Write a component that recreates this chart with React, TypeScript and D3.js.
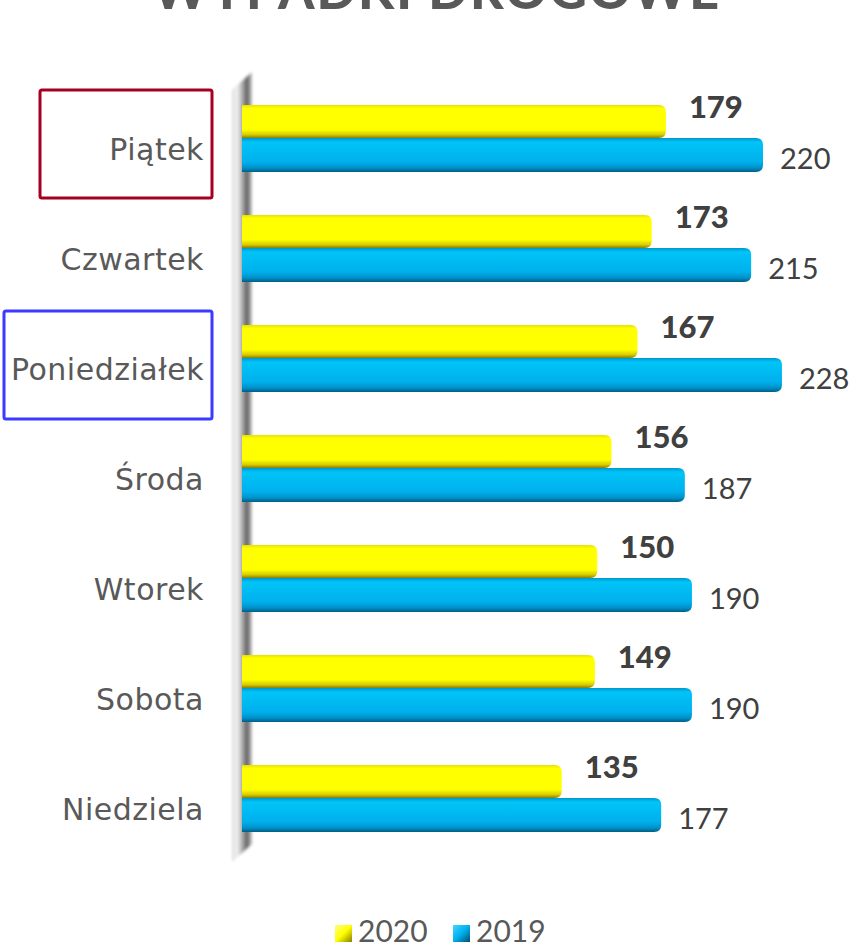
import React from "react";
import * as d3 from "d3";

const categories = ["Piątek", "Czwartek", "Poniedziałek", "Środa", "Wtorek", "Sobota", "Niedziela"];
const values2020 = [179, 173, 167, 156, 150, 149, 135];
const values2019 = [220, 215, 228, 187, 190, 190, 177];
const seriesNames = ["2020", "2019"];
const title = "WYPADKI DROGOWE";

const W = 854;
const H = 946;
const FONT = "'Lato', 'DejaVu Sans', sans-serif";
const CAT_FONT = "'DejaVu Sans', sans-serif";

export default function App() {
  const x = d3.scaleLinear().domain([0, 220]).range([242, 763]);
  const y = d3.scaleBand<string>().domain(categories).range([83, 853]).paddingInner(0).paddingOuter(0);
  const barH = 33;

  const barPath = (x0: number, x1: number, y0: number, h: number) => {
    const r = 7;
    return `M${x0},${y0} H${x1 - r} Q${x1},${y0} ${x1},${y0 + r} V${y0 + h - r} Q${x1},${y0 + h} ${x1 - r},${y0 + h} H${x0} Z`;
  };

  return (
    <svg width={W} height={H} style={{ position: "absolute", left: 0, top: 0, background: "#fff" }}>
      <defs>
        <linearGradient id="gY" x1="0" y1="0" x2="0" y2="1">
          <stop offset="0" stopColor="#e8e000" />
          <stop offset="0.1" stopColor="#ffff00" />
          <stop offset="0.75" stopColor="#ffff00" />
          <stop offset="0.9" stopColor="#d8cc00" />
          <stop offset="1" stopColor="#8a7d00" />
        </linearGradient>
        <linearGradient id="gB" x1="0" y1="0" x2="0" y2="1">
          <stop offset="0" stopColor="#0096cc" />
          <stop offset="0.12" stopColor="#00c4f8" />
          <stop offset="0.7" stopColor="#00b0ec" />
          <stop offset="0.88" stopColor="#0090c8" />
          <stop offset="1" stopColor="#005f85" />
        </linearGradient>
        <linearGradient id="gWall" x1="0" y1="0" x2="1" y2="0">
          <stop offset="0" stopColor="#dcdcdc" />
          <stop offset="0.25" stopColor="#f2f2f2" />
          <stop offset="0.5" stopColor="#b0b0b0" />
          <stop offset="0.75" stopColor="#5e5e5e" />
          <stop offset="1" stopColor="#c8c8c8" />
        </linearGradient>
        <filter id="blur" x="-50%" y="-5%" width="200%" height="110%">
          <feGaussianBlur stdDeviation="1.5" />
        </filter>
        <linearGradient id="gLY" x1="0" y1="0" x2="1" y2="1">
          <stop offset="0" stopColor="#ffff80" />
          <stop offset="0.5" stopColor="#ffff00" />
          <stop offset="1" stopColor="#8a8000" />
        </linearGradient>
        <linearGradient id="gLB" x1="0" y1="0" x2="1" y2="1">
          <stop offset="0" stopColor="#40d8ff" />
          <stop offset="0.5" stopColor="#00b0f0" />
          <stop offset="1" stopColor="#004f70" />
        </linearGradient>
      </defs>

      {/* title, cut off at top */}
      <text x={437} y={9} textAnchor="middle" fontFamily={FONT} fontWeight={900} fontSize={52} fill="#595959" letterSpacing={2}>
        {title}
      </text>

      {/* axis wall */}
      <path d={`M232,90 L252,72 L252,844 L232,862 Z`} fill="url(#gWall)" filter="url(#blur)" />

      {categories.map((c, i) => {
        const yc = (y(c) as number) + y.bandwidth() / 2;
        const x0 = x(0);
        const xa = x(values2020[i]);
        const xb = x(values2019[i]);
        return (
          <g key={c}>
            <path d={barPath(x0, xb, yc, barH + 1)} fill="url(#gB)" />
            <path d={barPath(x0, xa, yc - barH, barH)} fill="url(#gY)" />
            <text x={xa + 23} y={yc - 20} fontFamily={FONT} fontWeight={900} fontSize={31} fill="#404040">
              {values2020[i]}
            </text>
            <text x={xb + 17} y={yc + 31} fontFamily={FONT} fontSize={29} fill="#404040">
              {values2019[i]}
            </text>
            <text x={204} y={yc + 22} textAnchor="end" fontFamily={CAT_FONT} fontSize={30} letterSpacing={0.5} fill="#595959">
              {c}
            </text>
          </g>
        );
      })}

      {/* highlight boxes */}
      <rect x={40} y={90} width={172} height={108} rx={2} fill="none" stroke="#a50021" strokeWidth={3} />
      <rect x={4} y={311} width={208} height={108} rx={2} fill="none" stroke="#3b3bff" strokeWidth={3} />

      {/* legend */}
      <rect x={335} y={925} width={17} height={17} fill="url(#gLY)" />
      <text x={358} y={942} fontFamily={FONT} fontSize={30} fill="#595959">{seriesNames[0]}</text>
      <rect x={453} y={925} width={17} height={17} fill="url(#gLB)" />
      <text x={476} y={942} fontFamily={FONT} fontSize={30} fill="#595959">{seriesNames[1]}</text>
    </svg>
  );
}
